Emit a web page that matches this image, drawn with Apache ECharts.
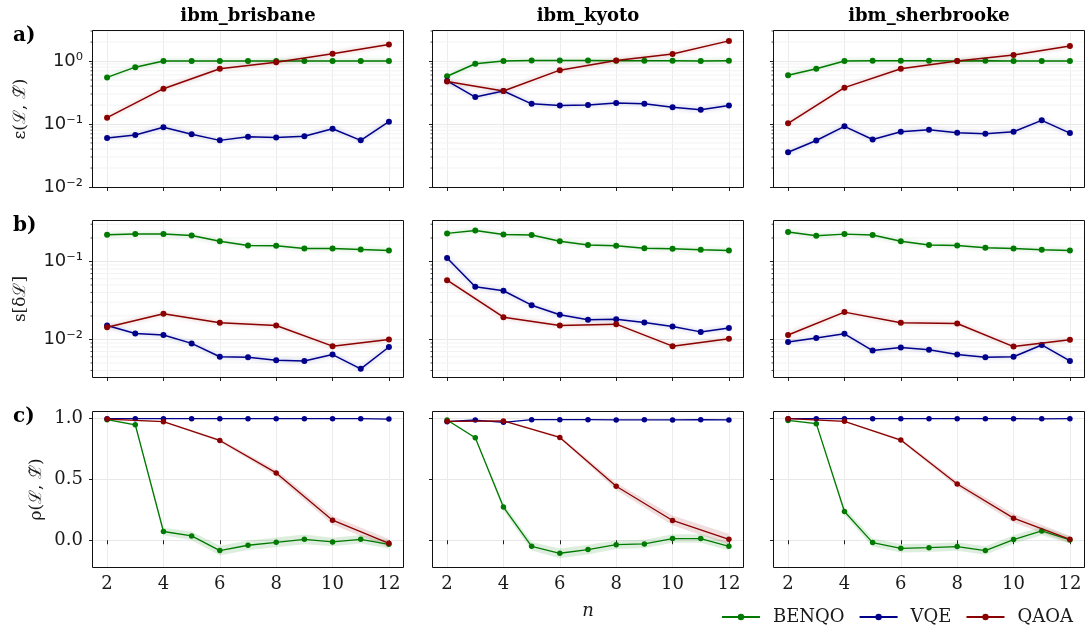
<!DOCTYPE html>
<html><head><meta charset="utf-8">
<script src="https://cdn.jsdelivr.net/npm/echarts@6/dist/echarts.min.js"></script>
<style>html,body{margin:0;padding:0;background:#fff}#c{width:1088px;height:635px}</style>
</head><body><div id="c"></div>
<script>
// ---------------- data ----------------
const nAll = [2, 3, 4, 5, 6, 7, 8, 9, 10, 11, 12];
const nEven = [2, 4, 6, 8, 10, 12];
const xTicks = [2, 4, 6, 8, 10, 12];
const devices = ['ibm_brisbane', 'ibm_kyoto', 'ibm_sherbrooke'];
const methods = ['BENQO', 'VQE', 'QAOA'];
const rowLetters = ['a)', 'b)', 'c)'];
const rowLabels = ['ε(ℒ, ℒ̃)', 's[δℒ]', 'ρ(ℒ, ℒ̃)'];
const ticksA = [0.01, 0.1, 1];
const minorA = [0.02, 0.03, 0.04, 0.05, 0.06, 0.07, 0.08, 0.09, 0.2, 0.3, 0.4, 0.5, 0.6, 0.7, 0.8, 0.9, 2, 3];
const ticksB = [0.01, 0.1];
const minorB = [0.004, 0.005, 0.006, 0.007, 0.008, 0.009, 0.02, 0.03, 0.04, 0.05, 0.06, 0.07, 0.08, 0.09, 0.2, 0.3];
const ticksC = [0, 0.5, 1.0];

// a) epsilon(L, L~)
const epsBrisbaneBENQO = [0.55, 0.80, 1.0, 1.0, 1.0, 1.0, 1.0, 1.0, 1.0, 1.0, 1.0];
const epsBrisbaneVQE = [0.060, 0.067, 0.089, 0.069, 0.055, 0.063, 0.061, 0.064, 0.084, 0.055, 0.109];
const epsBrisbaneQAOA = [0.126, 0.364, 0.753, 0.96, 1.31, 1.83];
const epsKyotoBENQO = [0.574, 0.906, 1.0, 1.02, 1.02, 1.02, 1.01, 1.01, 1.01, 1.0, 1.01];
const epsKyotoVQE = [0.483, 0.268, 0.334, 0.209, 0.197, 0.200, 0.215, 0.209, 0.185, 0.168, 0.197];
const epsKyotoQAOA = [0.472, 0.334, 0.717, 1.02, 1.29, 2.09];
const epsSherbrookeBENQO = [0.596, 0.753, 1.0, 1.01, 1.01, 1.01, 1.0, 1.01, 1.0, 1.0, 1.0];
const epsSherbrookeVQE = [0.0356, 0.0547, 0.0918, 0.0568, 0.0754, 0.081, 0.0726, 0.070, 0.0754, 0.1145, 0.0718];
const epsSherbrookeQAOA = [0.1025, 0.378, 0.753, 1.0, 1.25, 1.74];

// b) s[delta L]
const sBrisbaneBENQO = [0.220, 0.224, 0.225, 0.215, 0.182, 0.160, 0.159, 0.147, 0.147, 0.1426, 0.138];
const sBrisbaneVQE = [0.0151, 0.0119, 0.0114, 0.0089, 0.0060, 0.0059, 0.0054, 0.0053, 0.0064, 0.0042, 0.0080];
const sBrisbaneQAOA = [0.0143, 0.0213, 0.0164, 0.0151, 0.0082, 0.0100];
const sKyotoBENQO = [0.229, 0.250, 0.222, 0.218, 0.182, 0.162, 0.159, 0.148, 0.145, 0.141, 0.138];
const sKyotoVQE = [0.111, 0.0473, 0.0421, 0.0275, 0.0207, 0.0179, 0.0182, 0.0165, 0.0147, 0.0125, 0.0140];
const sKyotoQAOA = [0.0576, 0.0193, 0.0151, 0.0157, 0.0082, 0.0102];
const sSherbrookeBENQO = [0.238, 0.213, 0.224, 0.218, 0.182, 0.162, 0.160, 0.150, 0.147, 0.141, 0.138];
const sSherbrookeVQE = [0.0093, 0.0104, 0.0118, 0.0072, 0.0079, 0.0074, 0.0064, 0.0059, 0.0060, 0.0085, 0.0053];
const sSherbrookeQAOA = [0.0114, 0.0224, 0.0164, 0.0160, 0.0081, 0.0099];

// c) rho(L, L~)
const rhoBrisbaneBENQO = [0.992, 0.950, 0.072, 0.036, -0.085, -0.041, -0.017, 0.008, -0.014, 0.008, -0.033];
const rhoBrisbaneVQE = [1.0, 1.0, 1.0, 1.0, 1.0, 1.0, 1.0, 1.0, 1.0, 1.0, 0.997];
const rhoBrisbaneQAOA = [0.997, 0.975, 0.821, 0.554, 0.165, -0.025];
const rhoKyotoBENQO = [0.989, 0.843, 0.273, -0.050, -0.107, -0.077, -0.036, -0.030, 0.014, 0.014, -0.050];
const rhoKyotoVQE = [0.975, 0.989, 0.970, 0.992, 0.992, 0.992, 0.990, 0.991, 0.990, 0.992, 0.990];
const rhoKyotoQAOA = [0.978, 0.981, 0.846, 0.444, 0.163, 0.008];
const rhoSherbrookeBENQO = [0.986, 0.959, 0.237, -0.019, -0.066, -0.061, -0.052, -0.085, 0.006, 0.077, 0.003];
const rhoSherbrookeVQE = [1.0, 1.0, 1.0, 1.0, 1.0, 1.0, 1.0, 1.0, 1.0, 0.999, 1.0];
const rhoSherbrookeQAOA = [1.0, 0.978, 0.824, 0.463, 0.182, 0.008];
// shaded spread (half widths) in row c
const rhoBrisbaneBENQOErr = [0.005, 0.01, 0.03, 0.035, 0.04, 0.04, 0.04, 0.04, 0.035, 0.035, 0.035];
const rhoBrisbaneQAOAErr = [0.003, 0.006, 0.012, 0.025, 0.035, 0.035];
const rhoKyotoBENQOErr = [0.005, 0.01, 0.03, 0.035, 0.04, 0.04, 0.035, 0.035, 0.035, 0.035, 0.035];
const rhoKyotoQAOAErr = [0.003, 0.006, 0.012, 0.03, 0.04, 0.045];
const rhoSherbrookeBENQOErr = [0.005, 0.01, 0.03, 0.035, 0.035, 0.035, 0.035, 0.035, 0.035, 0.035, 0.03];
const rhoSherbrookeQAOAErr = [0.003, 0.006, 0.012, 0.025, 0.035, 0.03];

const panels = [
  [[epsBrisbaneBENQO, epsBrisbaneVQE, epsBrisbaneQAOA], [epsKyotoBENQO, epsKyotoVQE, epsKyotoQAOA], [epsSherbrookeBENQO, epsSherbrookeVQE, epsSherbrookeQAOA]],
  [[sBrisbaneBENQO, sBrisbaneVQE, sBrisbaneQAOA], [sKyotoBENQO, sKyotoVQE, sKyotoQAOA], [sSherbrookeBENQO, sSherbrookeVQE, sSherbrookeQAOA]],
  [[rhoBrisbaneBENQO, rhoBrisbaneVQE, rhoBrisbaneQAOA], [rhoKyotoBENQO, rhoKyotoVQE, rhoKyotoQAOA], [rhoSherbrookeBENQO, rhoSherbrookeVQE, rhoSherbrookeQAOA]]
];
const bandsC = [
  [rhoBrisbaneBENQOErr, null, rhoBrisbaneQAOAErr],
  [rhoKyotoBENQOErr, null, rhoKyotoQAOAErr],
  [rhoSherbrookeBENQOErr, null, rhoSherbrookeQAOAErr]
];

// ---------------- styling / layout ----------------
const colors = ['#007a00', '#00008b', '#8b0000'];
const glow = ['rgba(0,128,0,0.35)', 'rgba(0,0,139,0.35)', 'rgba(139,0,0,0.35)'];
const SERIF = '"DejaVu Serif", serif';
const SANS = '"DejaVu Sans", sans-serif';
const colLeft = [93, 433, 774];
const colW = 310;
const rowTop = [31, 221, 412];
const rowH = [156, 156, 155];
const TXT = '#1a1a1a';

const supMap = {'-': '⁻', '0': '⁰', '1': '¹', '2': '²', '3': '³', '4': '⁴', '5': '⁵', '6': '⁶', '7': '⁷', '8': '⁸', '9': '⁹'};
function pow10Label(v) {
  const e = Math.round(Math.log10(v));
  return '10' + String(e).split('').map(c => supMap[c]).join('');
}

const grids = [], xAxes = [], yAxes = [], series = [];
for (let r = 0; r < 3; r++) {
  for (let c = 0; c < 3; c++) {
    const gi = r * 3 + c;
    grids.push({left: colLeft[c], top: rowTop[r], width: colW, height: rowH[r],
      show: false, outerBoundsMode: 'none'});
    xAxes.push({type: 'value', gridIndex: gi, min: 1.5, max: 12.5,
      axisLine: {show: false},
      axisTick: {show: true, length: 4, customValues: xTicks, lineStyle: {color: '#222'}},
      axisLabel: {show: r === 2, customValues: xTicks, margin: 8, fontFamily: SERIF, fontSize: 18, color: TXT},
      splitLine: {show: true, lineStyle: {color: '#ececec', width: 1}}
    });
    const isLog = r < 2;
    const yTicks = r === 0 ? ticksA : (r === 1 ? ticksB : ticksC);
    yAxes.push({type: isLog ? 'log' : 'value', logBase: 10, gridIndex: gi,
      min: r === 0 ? 0.01 : (r === 1 ? 0.0033 : -0.22),
      max: r === 0 ? 3 : (r === 1 ? 0.33 : 1.055),
      axisLine: {show: false},
      axisTick: {show: true, length: 4, customValues: yTicks, lineStyle: {color: '#222'}},
      axisLabel: {show: c === 0, customValues: yTicks, margin: 10,
        fontFamily: isLog ? SANS : SERIF, fontSize: 18, color: TXT,
        formatter: isLog ? pow10Label : (v => v.toFixed(1))},
      splitLine: {show: true, lineStyle: {color: '#e8e8e8', width: 1}}
    });
    // minor ticks & minor grid for log axes
    if (isLog) {
      const minors = r === 0 ? minorA : minorB;
      series.push({type: 'custom', xAxisIndex: gi, yAxisIndex: gi, silent: true, z: 0, clip: false,
        data: minors.map(v => [1.5, v]),
        renderItem: (params, api) => {
          const a = api.coord([1.5, api.value(1)]);
          const b = api.coord([12.5, api.value(1)]);
          return {type: 'group', children: [
            {type: 'line', shape: {x1: a[0], y1: a[1], x2: b[0], y2: b[1]}, style: {stroke: '#f3f3f3', lineWidth: 1}},
            {type: 'line', shape: {x1: a[0] - 2.5, y1: a[1], x2: a[0], y2: a[1]}, style: {stroke: '#222', lineWidth: 0.8}}
          ]};
        }
      });
    }
    // bands for row c
    if (r === 2) {
      for (let m = 0; m < 3; m++) {
        const err = bandsC[c][m];
        if (!err) continue;
        const xs = m === 2 ? nEven : nAll;
        const ys = panels[r][c][m];
        const pts = xs.map((x, i) => [x, ys[i] - err[i], ys[i] + err[i]]);
        const col = colors[m];
        series.push({type: 'custom', name: 'band' + gi + '_' + m, xAxisIndex: gi, yAxisIndex: gi, silent: true, z: 1,
          data: pts,
          renderItem: (params, api) => {
            if (params.dataIndex !== 0) return null;
            const upper = pts.map(p => api.coord([p[0], p[2]]));
            const lower = pts.map(p => api.coord([p[0], p[1]])).reverse();
            return {type: 'polygon', shape: {points: upper.concat(lower)}, style: {fill: col, opacity: 0.13}};
          }
        });
      }
    }
    for (let m = 0; m < 3; m++) {
      const xs = m === 2 ? nEven : nAll;
      const ys = panels[r][c][m];
      series.push({type: 'line', name: methods[m], xAxisIndex: gi, yAxisIndex: gi, z: 3 + (m === 2 ? 1 : 0),
        data: xs.map((x, i) => [x, ys[i]]),
        symbol: 'circle', symbolSize: r === 2 ? 5.5 : 6, showSymbol: true,
        itemStyle: {color: colors[m]},
        lineStyle: r === 2 ? {color: colors[m], width: 1.3} : {color: colors[m], width: 1.5, shadowBlur: 4, shadowColor: glow[m]},
        animation: false, silent: true
      });
    }
  }
}

const graphics = [];
// panel frames (crisp 1px box)
for (let r = 0; r < 3; r++) for (let c = 0; c < 3; c++) {
  graphics.push({type: 'rect', x: colLeft[c] - 0.5, y: rowTop[r] - 0.5, z: 10, silent: true,
    shape: {width: colW + 1, height: rowH[r] + 1},
    style: {fill: null, stroke: '#111', lineWidth: 1}});
}
devices.forEach((d, i) => graphics.push({type: 'text', x: colLeft[i] + colW / 2, y: 16,
  style: {text: d, align: 'center', verticalAlign: 'middle', font: 'bold 18px ' + SERIF, fill: '#000'}}));
rowLetters.forEach((t, r) => graphics.push({type: 'text', x: 13, y: [36, 226, 417][r],
  style: {text: t, align: 'left', verticalAlign: 'middle', font: 'bold 20px ' + SERIF, fill: '#000'}}));
rowLabels.forEach((t, r) => graphics.push({type: 'text', x: [21, 21, 37][r], y: rowTop[r] + rowH[r] / 2, rotation: Math.PI / 2,
  style: {text: t, align: 'center', verticalAlign: 'middle', font: '17px ' + SERIF, fill: TXT}}));
graphics.push({type: 'text', x: colLeft[1] + colW / 2, y: 611,
  style: {text: 'n', align: 'center', verticalAlign: 'middle', font: 'italic 18px ' + SERIF, fill: TXT}});

const chart = echarts.init(document.getElementById('c'), null, {renderer: 'canvas'});
chart.setOption({
  animation: false,
  backgroundColor: '#fff',
  grid: grids, xAxis: xAxes, yAxis: yAxes, series: series,
  legend: {data: methods, right: 10, bottom: 4, itemWidth: 38, itemHeight: 8, itemGap: 14,
    textStyle: {fontFamily: SERIF, fontSize: 18, color: TXT, padding: [0, 0, 0, 8]}},
  graphic: graphics
});
</script></body></html>
